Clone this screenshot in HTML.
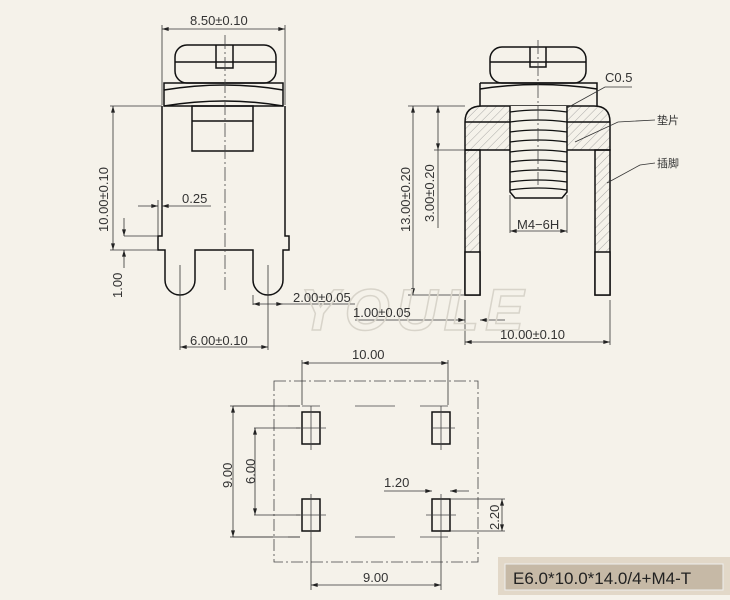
<!DOCTYPE html>
<html><head><style>
body{margin:0;background:#f5f2ea;}
svg{display:block;font-family:"Liberation Sans","Noto Sans CJK SC",sans-serif;}
</style></head><body>
<svg width="730" height="600" viewBox="0 0 730 600">
<defs>
<marker id="a" viewBox="0 0 10 6" refX="10" refY="3" markerWidth="9" markerHeight="5" orient="auto-start-reverse"><path d="M0,0 L10,3 L0,6z" fill="#222"/></marker>
<pattern id="h" width="6" height="6" patternUnits="userSpaceOnUse" patternTransform="rotate(45)"><line x1="0" y1="0" x2="0" y2="6" stroke="#888" stroke-width="0.7"/></pattern>
</defs>
<rect width="730" height="600" fill="#f5f2ea"/>
<g stroke="#111" stroke-width="1.5" fill="none">
<rect x="175" y="45" width="101" height="38" rx="12"/>
<line x1="175" y1="62" x2="276" y2="62"/>
<path d="M216,45 V68 H233 V45"/>
<path d="M164,83 H283 V106 H164 Z"/>
<path d="M164,90 Q225,80 283,90"/>
<path d="M164,106 Q225,96 283,106"/>
<rect x="192" y="106" width="61" height="45"/>
<line x1="192" y1="121" x2="253" y2="121"/>
<path d="M162,106 V236 H158 V250 H165 V280 A15,15 0 0 0 195,280 V250 H253 V280 A15,15 0 0 0 283,280 V250 H289 V236 H285 V106"/>
<rect x="490" y="47" width="96" height="36" rx="12"/>
<line x1="490" y1="62" x2="586" y2="62"/>
<path d="M530,47 V67 H546 V47"/>
<path d="M480,83 H597 V106"/><path d="M480,83 V106"/>
<path d="M480,89 Q538,80 597,89"/>
<path d="M465,150 V122 Q465,106 482,106 H594 Q610,106 610,122 V150 Z" fill="url(#h)"/>
<line x1="465" y1="122" x2="610" y2="122"/>
<rect x="465" y="150" width="15" height="145" fill="url(#h)"/>
<rect x="595" y="150" width="15" height="145" fill="url(#h)"/>
<rect x="465" y="252" width="15" height="43" fill="#f5f2ea"/>
<rect x="595" y="252" width="15" height="43" fill="#f5f2ea"/>
<path d="M510,106 V192 L515,198 H562 L567,192 V106" fill="#f5f2ea"/>
<path d="M510,112 q28,-4 57,0 M510,122 q28,-4 57,0 M510,132 q28,-4 57,0 M510,142 q28,-4 57,0 M510,152 q28,-4 57,0 M510,162 q28,-4 57,0 M510,172 q28,-4 57,0 M510,182 q28,-4 57,0 M510,190 q28,-4 57,0" stroke-width="1.2"/>
<rect x="302" y="412" width="18" height="32"/>
<rect x="432" y="412" width="18" height="32"/>
<rect x="302" y="499" width="18" height="32"/>
<rect x="432" y="499" width="18" height="32"/>
</g>
<g stroke="#444" stroke-width="0.8" fill="none">
<line x1="225" y1="35" x2="225" y2="290" stroke-dasharray="14,3,2,3"/>
<line x1="538" y1="40" x2="538" y2="185" stroke-dasharray="14,3,2,3"/>
<rect x="274" y="381" width="204" height="181" stroke-dasharray="12,3,2,3"/>
<path d="M302,406 H320 M311,406 V450 M432,428 H455 M441,406 V450 M296,515 H326 M311,494 V537 M426,515 H456 M441,494 V537 M296,428 H326" />
<path d="M233,406 H300 M355,406 H398 M420,406 H448 M233,537 H300 M355,537 H398 M420,537 H448" stroke-dasharray="40,15"/>
</g>
<g stroke="#333" stroke-width="0.8" fill="none">
<line x1="162" y1="25" x2="162" y2="105"/><line x1="285" y1="25" x2="285" y2="105"/>
<line x1="162" y1="29" x2="285" y2="29" marker-start="url(#a)" marker-end="url(#a)"/>
<line x1="110" y1="106" x2="162" y2="106"/>
<line x1="113" y1="106" x2="113" y2="250" marker-start="url(#a)" marker-end="url(#a)"/>
<line x1="110" y1="250" x2="158" y2="250"/><line x1="124" y1="236" x2="158" y2="236"/>
<line x1="124" y1="218" x2="124" y2="236" marker-end="url(#a)"/>
<line x1="124" y1="268" x2="124" y2="250" marker-end="url(#a)"/>
<line x1="138" y1="206" x2="158" y2="206" marker-end="url(#a)"/>
<line x1="211" y1="206" x2="162" y2="206" marker-end="url(#a)"/>
<line x1="158" y1="200" x2="158" y2="236"/><line x1="162" y1="200" x2="162" y2="210"/>
<line x1="180" y1="265" x2="180" y2="350"/><line x1="268" y1="265" x2="268" y2="350"/>
<line x1="180" y1="347" x2="268" y2="347" marker-start="url(#a)" marker-end="url(#a)"/>
<line x1="253" y1="295" x2="253" y2="305"/>
<line x1="253" y1="304" x2="283" y2="304" marker-start="url(#a)" marker-end="url(#a)"/>
<line x1="283" y1="304" x2="355" y2="304"/>
<line x1="408" y1="106" x2="465" y2="106"/>
<line x1="413" y1="106" x2="413" y2="295" marker-start="url(#a)" marker-end="url(#a)"/>
<line x1="408" y1="295" x2="465" y2="295"/>
<line x1="438" y1="106" x2="438" y2="150" marker-start="url(#a)" marker-end="url(#a)"/>
<line x1="434" y1="150" x2="465" y2="150"/>
<line x1="438" y1="150" x2="438" y2="228"/>
<line x1="510" y1="195" x2="510" y2="233"/><line x1="567" y1="195" x2="567" y2="233"/>
<line x1="510" y1="231" x2="567" y2="231" marker-start="url(#a)" marker-end="url(#a)"/>
<line x1="465" y1="300" x2="465" y2="345"/><line x1="610" y1="300" x2="610" y2="345"/>
<line x1="465" y1="342" x2="610" y2="342" marker-start="url(#a)" marker-end="url(#a)"/>
<line x1="440" y1="320" x2="465" y2="320" marker-end="url(#a)"/>
<line x1="505" y1="320" x2="480" y2="320" marker-end="url(#a)"/>
<line x1="355" y1="320" x2="440" y2="320"/>
<polyline points="567,108 605,87 632,87"/>
<polyline points="575,142 618,122 655,120"/>
<polyline points="607,183 640,165 655,163"/>
<line x1="302" y1="360" x2="302" y2="405"/><line x1="448" y1="360" x2="448" y2="405"/>
<line x1="302" y1="363" x2="448" y2="363" marker-start="url(#a)" marker-end="url(#a)"/>
<line x1="230" y1="406" x2="300" y2="406"/><line x1="230" y1="537" x2="300" y2="537"/>
<line x1="233" y1="406" x2="233" y2="537" marker-start="url(#a)" marker-end="url(#a)"/>
<line x1="254" y1="428" x2="300" y2="428"/><line x1="254" y1="515" x2="300" y2="515"/>
<line x1="255" y1="428" x2="255" y2="515" marker-start="url(#a)" marker-end="url(#a)"/>
<line x1="311" y1="537" x2="311" y2="590"/><line x1="441" y1="537" x2="441" y2="590"/>
<line x1="311" y1="585" x2="441" y2="585" marker-start="url(#a)" marker-end="url(#a)"/>
<line x1="384" y1="491" x2="432" y2="491" marker-end="url(#a)"/>
<line x1="469" y1="491" x2="450" y2="491" marker-end="url(#a)"/>
<line x1="450" y1="499" x2="505" y2="499"/><line x1="450" y1="531" x2="505" y2="531"/>
<line x1="502" y1="499" x2="502" y2="531" marker-start="url(#a)" marker-end="url(#a)"/>
</g>
<text x="300" y="330" font-size="58" font-style="italic" font-weight="bold" fill="none" stroke="#d8d4ca" stroke-width="1.5" letter-spacing="6">YOULE</text>
<g fill="#333" font-size="13">
<text x="190" y="25">8.50±0.10</text>
<text x="182" y="203">0.25</text>
<text x="190" y="345">6.00±0.10</text>
<text x="293" y="302">2.00±0.05</text>
<text x="353" y="317">1.00±0.05</text>
<text x="500" y="339">10.00±0.10</text>
<text x="517" y="229">M4−6H</text>
<text x="605" y="82">C0.5</text>
<text x="657" y="124" font-size="11">垫片</text>
<text x="657" y="167" font-size="11">插脚</text>
<text x="352" y="359">10.00</text>
<text x="384" y="487">1.20</text>
<text x="363" y="582">9.00</text>
<text transform="translate(108,232) rotate(-90)">10.00±0.10</text>
<text transform="translate(122,298) rotate(-90)">1.00</text>
<text transform="translate(410,232) rotate(-90)">13.00±0.20</text>
<text transform="translate(434,222) rotate(-90)">3.00±0.20</text>
<text transform="translate(232,488) rotate(-90)">9.00</text>
<text transform="translate(255,484) rotate(-90)">6.00</text>
<text transform="translate(499,530) rotate(-90)">2.20</text>
</g>
<rect x="498" y="557" width="232" height="38" fill="#e2d8c8"/>
<rect x="505" y="564" width="218" height="26" fill="#c6b9a6" stroke="#eee" stroke-width="1"/>
<text x="513" y="584" font-size="17" fill="#222">E6.0*10.0*14.0/4+M4-T</text>
</svg>
</body></html>
